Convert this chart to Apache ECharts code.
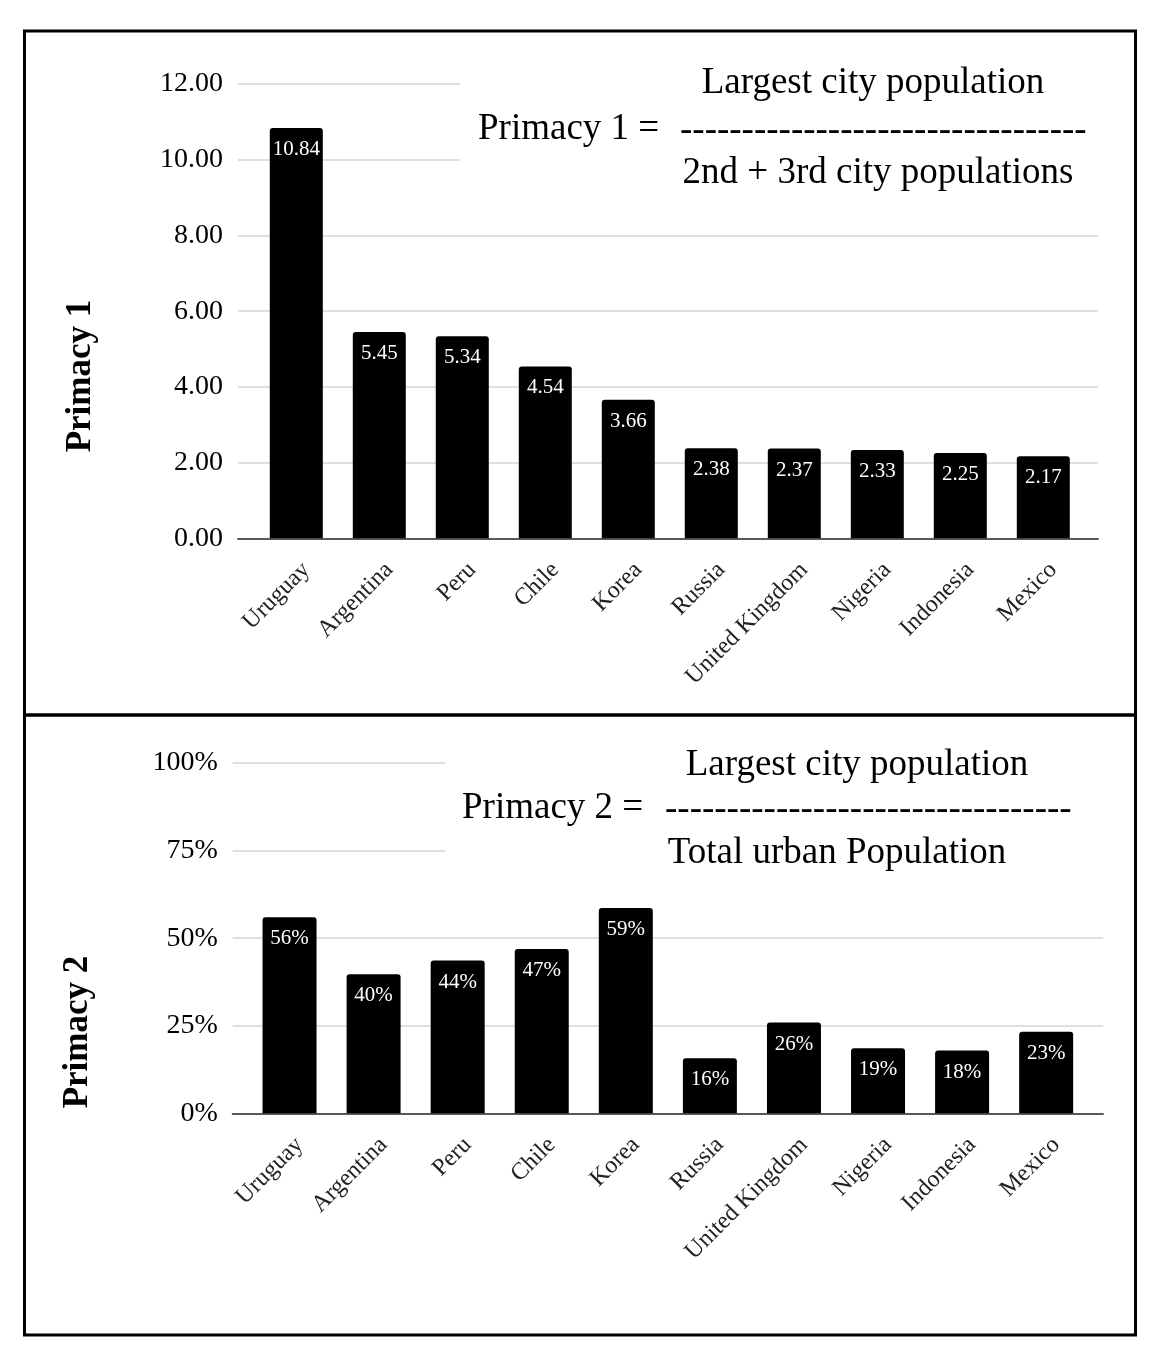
<!DOCTYPE html>
<html><head><meta charset="utf-8">
<script src="https://cdn.jsdelivr.net/npm/echarts@6/dist/echarts.min.js"></script>
<style>html,body{margin:0;padding:0;background:#fff}#c{width:1158px;height:1360px}</style>
</head><body><div id="c"></div>
<script>
// ---- data ----
const categories = ['Uruguay','Argentina','Peru','Chile','Korea','Russia','United Kingdom','Nigeria','Indonesia','Mexico'];
const primacy1 = [10.84, 5.45, 5.34, 4.54, 3.66, 2.38, 2.37, 2.33, 2.25, 2.17];
const primacy2 = [0.56, 0.397, 0.436, 0.469, 0.586, 0.157, 0.259, 0.186, 0.179, 0.233];
const p1Axis = { min: 0, max: 12, interval: 2 };
const p2Axis = { min: 0, max: 1, interval: 0.25 };
const p1Title = 'Primacy 1';
const p2Title = 'Primacy 2';
const f1 = ['Largest city population', 'Primacy 1 =', '---------------------------------', '2nd + 3rd city populations'];
const f2 = ['Largest city population', 'Primacy 2 =', '---------------------------------', 'Total urban Population'];

// ---- styles ----
const FF = '"Liberation Serif", "Times New Roman", serif';
const gridColor = '#d4d4d4';
const axisColor = '#595959';

function baseX(gi, showLine) {
  return {
    type: 'category', gridIndex: gi, data: categories,
    axisLine: { show: showLine, lineStyle: { color: axisColor, width: 2 } },
    axisTick: { show: false }, axisLabel: { show: false }, splitLine: { show: false }
  };
}
function labelX(gi) {
  return {
    type: 'category', gridIndex: gi, data: categories,
    axisLine: { show: false }, axisTick: { show: false }, splitLine: { show: false },
    axisLabel: { show: true, interval: 0, rotate: 45, margin: 28, fontSize: 24, fontFamily: FF, color: '#222' }
  };
}
function hiddenY(gi, ax) {
  return { type: 'value', gridIndex: gi, min: ax.min, max: ax.max, interval: ax.interval, show: false, splitLine: { show: false } };
}
function mainY(gi, ax, fmt) {
  return {
    type: 'value', gridIndex: gi, min: ax.min, max: ax.max, interval: ax.interval,
    axisLine: { show: false }, axisTick: { show: false },
    axisLabel: { formatter: fmt, fontSize: 28, fontFamily: FF, color: '#000', margin: 15 },
    splitLine: { show: true, lineStyle: { color: gridColor, width: 1.5 } }
  };
}

const H1 = 538.3 - 84, H2 = 1113.3 - 763;
const option = {
  animation: false,
  backgroundColor: '#fff',
  grid: [
    { left: 238, top: 84, width: 860, height: H1 },
    { left: 254.8, top: 84, width: 830, height: H1 },
    { left: 264.8, top: 84, width: 830, height: H1 },
    { left: 232.7, top: 763, width: 870.3, height: H2 },
    { left: 247.5, top: 763, width: 840.7, height: H2 },
    { left: 257.5, top: 763, width: 840.7, height: H2 }
  ],
  xAxis: [baseX(0, true), baseX(1, false), labelX(2), baseX(3, true), baseX(4, false), labelX(5)],
  yAxis: [
    mainY(0, p1Axis, v => v.toFixed(2)), hiddenY(1, p1Axis), hiddenY(2, p1Axis),
    mainY(3, p2Axis, v => Math.round(v * 100) + '%'), hiddenY(4, p2Axis), hiddenY(5, p2Axis)
  ],
  series: [
    {
      type: 'bar', xAxisIndex: 1, yAxisIndex: 1, data: primacy1, barWidth: 53, z: 3,
      itemStyle: { color: '#000', borderRadius: [3, 3, 0, 0] },
      label: { show: true, position: 'insideTop', distance: 11, color: '#fff', fontSize: 21, fontFamily: FF,
        formatter: p => p.value.toFixed(2) }
    },
    {
      type: 'bar', xAxisIndex: 4, yAxisIndex: 4, data: primacy2, barWidth: 54, z: 3,
      itemStyle: { color: '#000', borderRadius: [3, 3, 0, 0] },
      label: { show: true, position: 'insideTop', distance: 11, color: '#fff', fontSize: 21, fontFamily: FF,
        formatter: p => Math.round(p.value * 100) + '%' }
    }
  ],
  graphic: [
    { type: 'rect', z: 1, shape: { x: 460, y: 60, width: 645, height: 150 }, style: { fill: '#fff' } },
    { type: 'rect', z: 1, shape: { x: 445, y: 740, width: 665, height: 150 }, style: { fill: '#fff' } },
    { type: 'rect', z: 20, shape: { x: 24.5, y: 31, width: 1111, height: 684 }, style: { fill: 'none', stroke: '#000', lineWidth: 3 } },
    { type: 'rect', z: 20, shape: { x: 24.5, y: 715, width: 1111, height: 620 }, style: { fill: 'none', stroke: '#000', lineWidth: 3 } },
    { type: 'text', z: 20, x: 81, y: 376, rotation: Math.PI / 2,
      style: { text: p1Title, fontSize: 35, fontWeight: 'bold', fontFamily: FF, fill: '#000', align: 'center', verticalAlign: 'middle' } },
    { type: 'text', z: 20, x: 78, y: 1032, rotation: Math.PI / 2,
      style: { text: p2Title, fontSize: 35, fontWeight: 'bold', fontFamily: FF, fill: '#000', align: 'center', verticalAlign: 'middle' } },
    { type: 'text', z: 20, x: 873, y: 83, style: { text: f1[0], fontSize: 37, fontFamily: FF, fill: '#000', align: 'center', verticalAlign: 'middle' } },
    { type: 'text', z: 20, x: 478, y: 129, style: { text: f1[1], fontSize: 37, fontFamily: FF, fill: '#000', align: 'left', verticalAlign: 'middle' } },
    { type: 'text', z: 20, x: 680, y: 131, style: { text: f1[2], fontSize: 37, fontFamily: FF, fill: '#000', align: 'left', verticalAlign: 'middle' } },
    { type: 'text', z: 20, x: 878, y: 173, style: { text: f1[3], fontSize: 37, fontFamily: FF, fill: '#000', align: 'center', verticalAlign: 'middle' } },
    { type: 'text', z: 20, x: 857, y: 765, style: { text: f2[0], fontSize: 37, fontFamily: FF, fill: '#000', align: 'center', verticalAlign: 'middle' } },
    { type: 'text', z: 20, x: 462, y: 808, style: { text: f2[1], fontSize: 37, fontFamily: FF, fill: '#000', align: 'left', verticalAlign: 'middle' } },
    { type: 'text', z: 20, x: 665, y: 810, style: { text: f2[2], fontSize: 37, fontFamily: FF, fill: '#000', align: 'left', verticalAlign: 'middle' } },
    { type: 'text', z: 20, x: 837, y: 853, style: { text: f2[3], fontSize: 37, fontFamily: FF, fill: '#000', align: 'center', verticalAlign: 'middle' } }
  ]
};
const chart = echarts.init(document.getElementById('c'), null, { renderer: 'canvas' });
chart.setOption(option);
</script>
</body></html>
